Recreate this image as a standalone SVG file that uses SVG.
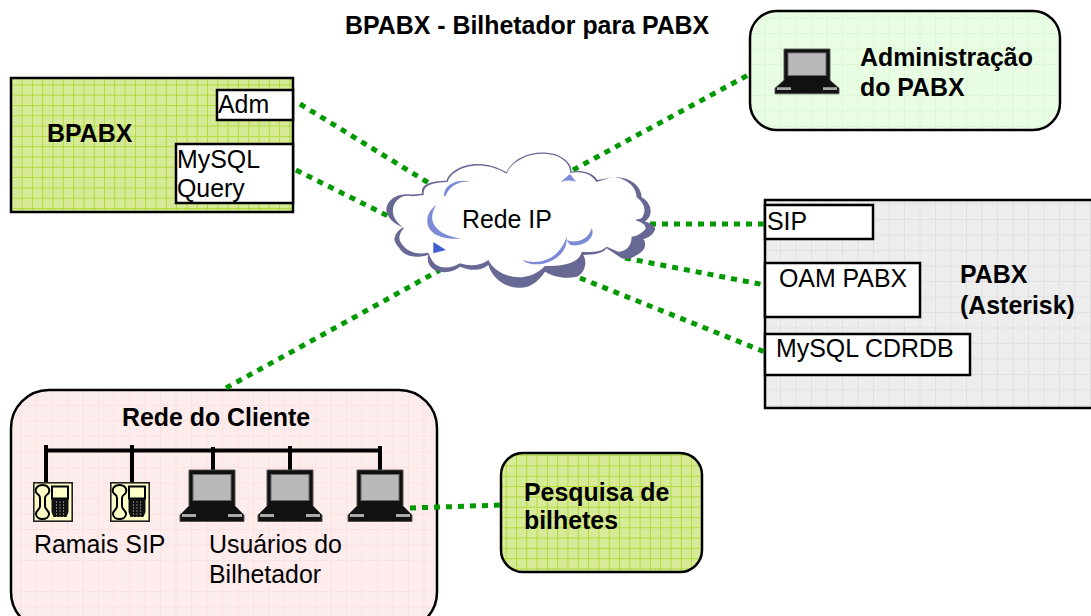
<svg xmlns="http://www.w3.org/2000/svg" xmlns:xlink="http://www.w3.org/1999/xlink" width="1091" height="616" viewBox="0 0 1091 616">
<style>
text{font-family:"Liberation Sans",Arial,sans-serif;font-size:24.9px;fill:#000}
.b{font-weight:bold}
.box{stroke:#000;stroke-width:2.5}
.w{fill:#fff;stroke:#000;stroke-width:2.5}
.link{fill:none;stroke:#009900;stroke-width:5;stroke-dasharray:6 6}
.bus{fill:none;stroke:#000;stroke-width:4}
.cres{fill:#7d8ad8}
</style>
<defs>
<pattern id="pG" width="10.3" height="10.3" patternUnits="userSpaceOnUse" x="1" y="2"><rect width="10.3" height="10.3" fill="#d6ea98"/><path d="M0 .5H10.3M.5 0V10.3" stroke="#afd932" stroke-width=".9"/></pattern>
<pattern id="pL" width="15.5" height="15.5" patternUnits="userSpaceOnUse" x="5" y="2"><rect width="15.5" height="15.5" fill="#e8fde3"/><path d="M0 .5H15.500M.5 0V15.500" stroke="#d9f8d2" stroke-width=".9"/></pattern>
<pattern id="pP" width="15.5" height="15.5" patternUnits="userSpaceOnUse" x="5" y="2"><rect width="15.5" height="15.5" fill="#fdecec"/><path d="M0 .5H15.500M.5 0V15.500" stroke="#fbe2e2" stroke-width=".9"/></pattern>
<pattern id="pS" width="15.5" height="15.5" patternUnits="userSpaceOnUse" x="5" y="2"><rect width="15.5" height="15.5" fill="#ededed"/><path d="M0 .5H15.500M.5 0V15.500" stroke="#e0e0e0" stroke-width=".9"/></pattern>
<symbol id="laptop" viewBox="0 0 66 52" width="66" height="52" overflow="visible">
<path d="M10 0H56V36L65 45V51.500H1V45L10 36Z" fill="#111" stroke="#555" stroke-width="1"/>
<rect x="14" y="4.500" width="38" height="26" fill="#b9b9b9" stroke="#666" stroke-width="1"/>
<path d="M3 44H17V47H3ZM49 44H63V47H49Z" fill="#aaa"/>
</symbol>
<symbol id="phone" viewBox="0 0 40 40" width="40" height="40" overflow="visible">
<rect x=".8" y=".8" width="38.400" height="38.400" fill="#ffffc8" stroke="#222" stroke-width="1.600"/>
<path d="M9.500 3C4 3 2 7 3 10C4 13 7 12 7 16V24C7 28 3 28 3 32C3 35 6 37 9.500 37C13 37 16 35 16 32C16 28 12 28 12 24V16C12 12 16 13 16 10C17 7 15 3 9.500 3Z" fill="none" stroke="#000" stroke-width="2"/>
<rect x="19" y="4.500" width="16" height="12" fill="#ffffc8" stroke="#000" stroke-width="2"/>
<path d="M18.500 17H35.500V30L33.500 35H20.500L18.500 30Z" fill="#111"/>
<path d="M23.500 19V35M27 19V35M30.500 19V35" stroke="#777" stroke-width="1" stroke-dasharray="2 1"/>
</symbol>
</defs>

<text class="b" x="345" y="34" id="title">BPABX - Bilhetador para PABX</text>

<g id="bpabx">
<rect class="box" x="11" y="78" width="282" height="134" fill="url(#pG)"/>
<text class="b" x="47" y="142">BPABX</text>
<rect class="w" x="217" y="90" width="76" height="30"/>
<text x="218" y="113">Adm</text>
<rect class="w" x="176" y="144" width="117" height="59"/>
<text x="177" y="168">MySQL</text>
<text x="177" y="197">Query</text>
</g>

<g id="admin">
<rect class="box" x="750" y="11" width="310" height="119" rx="27" fill="url(#pL)"/>
<use xlink:href="#laptop" href="#laptop" transform="translate(774 49) scale(1 .87)"/>
<text class="b" x="860" y="66">Administração</text>
<text class="b" x="860" y="96">do PABX</text>
</g>

<g id="pabx">
<rect class="box" x="765" y="200" width="340" height="208" fill="url(#pS)"/>
<rect class="w" x="765" y="205" width="108" height="34"/>
<text x="767" y="230">SIP</text>
<rect class="w" x="765" y="263" width="155" height="54"/>
<text x="779" y="287">OAM PABX</text>
<rect class="w" x="765" y="334" width="205" height="41"/>
<text x="776" y="357">MySQL CDRDB</text>
<text class="b" x="960" y="283">PABX</text>
<text class="b" x="960" y="314">(Asterisk)</text>
</g>

<g id="rede-cliente">
<rect class="box" x="11" y="390" width="426" height="240" rx="38" fill="url(#pP)"/>
<text class="b" x="122" y="426">Rede do Cliente</text>
<path class="bus" d="M46 450.500H380M46 445V482M132 445V482M213 447V470M290 446V470M380 446V470"/>
<use xlink:href="#phone" href="#phone" x="33" y="482"/>
<use xlink:href="#phone" href="#phone" x="110" y="482"/>
<use xlink:href="#laptop" href="#laptop" x="179" y="470"/>
<use xlink:href="#laptop" href="#laptop" x="257" y="470"/>
<use xlink:href="#laptop" href="#laptop" x="347" y="470"/>
<text x="34" y="553">Ramais SIP</text>
<text x="209" y="553">Usuários do</text>
<text x="209" y="583">Bilhetador</text>
</g>

<g id="pesquisa">
<rect class="box" x="501" y="453" width="201" height="119" rx="22" fill="url(#pG)"/>
<text class="b" x="524" y="501">Pesquisa de</text>
<text class="b" x="524" y="529">bilhetes</text>
</g>

<g id="connectors">
<path class="link" d="M300 104L432 185"/>
<path class="link" d="M296 170L390 217"/>
<path class="link" d="M226 388L440 270"/>
<path class="link" d="M573 170L750 74"/>
<path class="link" d="M650 224L765 224"/>
<path class="link" d="M625 258L765 285"/>
<path class="link" d="M580 278L765 352"/>
<path class="link" d="M410 508L503 505"/>
</g>

<g id="cloud" transform="translate(370 140) scale(.3333)">
<path d="M100 262C65 250 40 220 52 195C62 172 90 160 115 163C140 165 150 162 157 160C150 140 170 122 230 122C240 85 320 45 410 97C425 55 490 25 555 42C590 55 605 75 605 95C640 88 670 100 682 120L730 112C780 108 815 140 815 172C840 185 850 215 835 235L825 245C850 250 858 262 855 270C845 290 830 295 820 297C832 312 825 335 800 345C785 358 765 358 755 355L710 325C700 340 670 345 640 345C655 370 640 405 620 410C585 418 550 410 525 395C505 425 480 445 445 443C400 442 365 410 355 375C330 395 300 392 270 380C250 398 215 402 190 388C175 378 170 360 175 345C130 358 100 345 88 325C75 310 70 295 75 290C80 275 90 268 100 262Z" fill="#686894"/>
<path d="M102 264C75 245 62 220 72 195C82 175 100 165 118 168C140 170 150 165 162 165C156 142 178 127 233 126C243 90 320 50 410 101C425 60 490 29 554 46C587 58 601 77 601 99C640 92 666 104 679 126L730 110C770 115 800 140 800 172C825 190 830 215 815 235L795 240C820 248 830 258 826 268C810 285 795 290 785 290C785 320 765 335 745 335L710 320C695 335 665 338 635 335C630 365 590 380 525 378C505 400 475 412 445 412C405 410 370 390 355 360C330 378 300 380 270 370C245 385 215 388 195 372C185 362 180 350 175 338C140 345 115 335 100 318C90 305 85 295 90 285C92 275 97 270 102 264Z" fill="#fff"/>
<path class="cres" d="M200 195C165 215 160 265 200 285C225 297 250 297 275 296C235 290 195 275 187 240C185 225 190 205 200 195Z"/>
<path class="cres" d="M222 168C220 135 260 115 305 125C270 122 240 135 227 168Z"/>
<path class="cres" d="M458 360C500 375 565 365 590 290C595 340 545 375 495 373C480 372 465 368 458 360Z"/>
<path class="cres" d="M590 300C620 312 655 300 665 265C680 295 635 325 600 314Z"/>
<path class="cres" d="M572 126L600 102L618 125Q595 118 572 126Z"/>
<path d="M190 306L228 330L190 340Z" fill="#4060d0"/>
<text x="276" y="263" style="font-size:74.700px">Rede IP</text>
</g>
</svg>
